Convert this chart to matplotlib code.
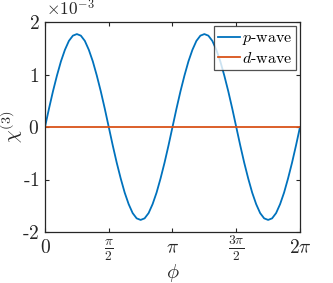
import numpy as np
import matplotlib
matplotlib.use("Agg")
import matplotlib.pyplot as plt

plt.rcParams['mathtext.fontset'] = 'cm'
plt.rcParams['font.family'] = 'serif'
plt.rcParams['font.serif'] = ['DejaVu Serif']

# phi grid (0 .. 2pi), chi values in units of 1e-3
phi = np.linspace(0, 2 * np.pi, 65)
chi_p = [0.00, 0.35, 0.68, 0.98, 1.25, 1.47, 1.64, 1.74, 1.77, 1.74, 1.64, 1.47, 1.25, 0.98, 0.68, 0.35,
         0.00, -0.35, -0.68, -0.98, -1.25, -1.47, -1.64, -1.74, -1.77, -1.74, -1.64, -1.47, -1.25, -0.98, -0.68, -0.35,
         0.00, 0.35, 0.68, 0.98, 1.25, 1.47, 1.64, 1.74, 1.77, 1.74, 1.64, 1.47, 1.25, 0.98, 0.68, 0.35,
         0.00, -0.35, -0.68, -0.98, -1.25, -1.47, -1.64, -1.74, -1.77, -1.74, -1.64, -1.47, -1.25, -0.98, -0.68, -0.35,
         0.00]
phi_d = [0, 2 * np.pi]
chi_d = [0.0, 0.0]

xticks = [0, np.pi / 2, np.pi, 3 * np.pi / 2, 2 * np.pi]
xticklabels = [r'$0$', r'$\frac{\pi}{2}$', r'$\pi$', r'$\frac{3\pi}{2}$', r'$2\pi$']
yticks = [-2, -1, 0, 1, 2]
yticklabels = [r'$\text{-}2$', r'$\text{-}1$', r'$0$', r'$1$', r'$2$']
labels = [r'$p\text{-}\mathrm{wave}$', r'$d\text{-}\mathrm{wave}$']

axcol = '#262626'
fig = plt.figure(figsize=(3.33, 2.83), dpi=100)
ax = fig.add_axes([45 / 333, 1 - 232 / 283, 255 / 333, 210 / 283])
ax.plot(phi, chi_p, color='#0072BD', lw=1.3, label=labels[0])
ax.plot(phi_d, chi_d, color='#D95319', lw=1.3, label=labels[1])
ax.set_xlim(0, 2 * np.pi)
ax.set_ylim(-2, 2)
ax.set_xticks(xticks)
ax.set_xticklabels(xticklabels)
ax.set_yticks(yticks)
ax.set_yticklabels(yticklabels)
ax.tick_params(direction='in', length=3, width=0.8, colors=axcol, labelsize=14,
               top=True, right=True)
ax.tick_params(axis='y', pad=4)
ax.tick_params(axis='x', pad=15)
for lbl in ax.get_xticklabels():
    lbl.set_va('baseline')
for s in ax.spines.values():
    s.set_color(axcol)
    s.set_linewidth(0.9)
ax.set_xlabel(r'$\phi$', fontsize=14.5, color=axcol)
ax.xaxis.set_label_coords(0.5, (232 - 262) / 210)
ax.set_ylabel(r'$\chi^{(3)}$', fontsize=14.5, color=axcol)
ax.yaxis.set_label_coords((25 - 45) / 255, 0.5)
fig.text(46 / 333, 1 - 9 / 283, r'$\times10^{-3}$', fontsize=12.5, color=axcol, va='center', ha='left')
leg = ax.legend(loc='upper right', fontsize=11.5, frameon=True, fancybox=False,
                edgecolor=axcol, handlelength=1.4, borderpad=0.2, labelspacing=0.15,
                handletextpad=0.15, borderaxespad=0.25)
leg.get_frame().set_linewidth(0.9)
fig.savefig('out.png', dpi=100)
